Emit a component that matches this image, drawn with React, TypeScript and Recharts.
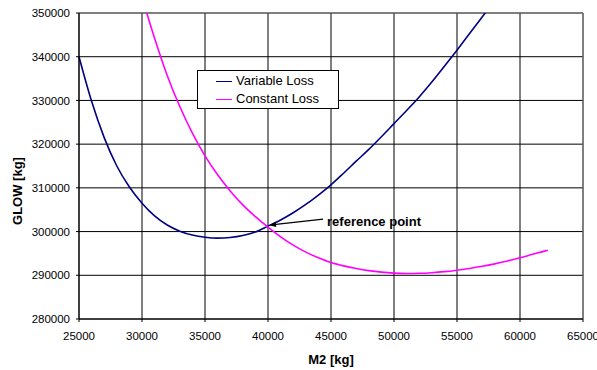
import {
  LineChart,
  Line,
  XAxis,
  YAxis,
  CartesianGrid,
  Legend,
  ReferenceLine
} from 'recharts'

// values
const m2Variable = [
  25000, 26000, 27000, 28000, 29000, 30000, 31000, 32000, 33000, 34000,
  35000, 36000, 37000, 38000, 39000, 40000, 41000, 42000, 43000, 44000,
  45000, 46000, 47000, 48000, 49000, 50000, 51000, 52000, 53000, 54000,
  55000, 56000, 57000, 58000
]
const glowVariable = [
  340000, 329800, 321500, 315000, 310200, 306500, 303600, 301500, 300100, 299200,
  298700, 298500, 298650, 299100, 299900, 301250, 302650, 304300, 306200, 308350,
  310700, 313350, 316100, 318800, 321700, 324700, 327700, 330800, 334200, 337800,
  341500, 345300, 349100, 353000
]

const m2Constant = [
  30000, 31000, 32000, 33000, 34000, 35000, 36000, 37000, 38000, 39000,
  40000, 41000, 42000, 43000, 44000, 45000, 46000, 47000, 48000, 49000,
  50000, 51000, 52000, 53000, 54000, 55000, 56000, 57000, 58000, 59000,
  60000, 61000, 62000, 62200
]
const glowConstant = [
  353700, 344200, 335700, 328600, 322500, 317300, 313000, 309300, 306100, 303400,
  301000, 298800, 296900, 295300, 294000, 292900, 292150, 291550, 291070, 290720,
  290500, 290410, 290450, 290590, 290830, 291170, 291570, 292050, 292610, 293250,
  293990, 294790, 295580, 295750
]

const seriesNames = ['Variable Loss', 'Constant Loss']
const seriesColors = ['#000080', '#FF00FF']

const xTicks = [25000, 30000, 35000, 40000, 45000, 50000, 55000, 60000, 65000]
const yTicks = [280000, 290000, 300000, 310000, 320000, 330000, 340000, 350000]

// annotation arrow: from label to the reference point
const arrowFrom = { x: 44370, y: 302840 }
const referencePoint = { x: 40080, y: 301460 }

const variableData = m2Variable.map((x, i) => ({ x, y: glowVariable[i] }))
const constantData = m2Constant.map((x, i) => ({ x, y: glowConstant[i] }))

const font = "'Liberation Sans', Arial, Helvetica, sans-serif"

function ArrowShape(props: any) {
  const { x1, y1, x2, y2 } = props
  const a = Math.atan2(y2 - y1, x2 - x1)
  const len = 7
  const w = 2.6
  const bx = x2 - len * Math.cos(a)
  const by = y2 - len * Math.sin(a)
  const pts = `${x2},${y2} ${bx + w * Math.sin(a)},${by - w * Math.cos(a)} ${bx - w * Math.sin(a)},${by + w * Math.cos(a)}`
  return (
    <g>
      <line x1={x1} y1={y1} x2={bx} y2={by} stroke="#000" strokeWidth={1.4} />
      <polygon points={pts} fill="#000" />
      <text
        x={x1 + 4}
        y={y1 + 7}
        fontFamily={font}
        fontSize={13}
        fontWeight="bold"
        fill="#000"
      >
        reference point
      </text>
    </g>
  )
}

function XTitle(props: any) {
  const { viewBox } = props
  return (
    <text
      x={viewBox.x + viewBox.width / 2}
      y={viewBox.y + 45}
      textAnchor="middle"
      fontFamily={font}
      fontSize={13}
      fontWeight="bold"
      fill="#000"
    >
      M2 [kg]
    </text>
  )
}

function YTitle(props: any) {
  const { viewBox } = props
  const cx = viewBox.x + 22
  const cy = viewBox.y + viewBox.height / 2 + 25
  return (
    <text
      x={cx}
      y={cy}
      transform={`rotate(-90 ${cx} ${cy})`}
      textAnchor="middle"
      fontFamily={font}
      fontSize={13}
      fontWeight="bold"
      fill="#000"
    >
      GLOW [kg]
    </text>
  )
}

function LegendBox() {
  return (
    <div
      style={{
        width: 142,
        height: 39,
        boxSizing: 'border-box',
        border: '1px solid #000',
        background: '#fff',
        paddingTop: 1,
        fontFamily: font,
        fontSize: 13,
        color: '#000'
      }}
    >
      {seriesNames.map((name, i) => (
        <div
          key={name}
          style={{ height: 18, display: 'flex', alignItems: 'center' }}
        >
          <span
            style={{
              display: 'inline-block',
              marginLeft: 18,
              width: 16,
              height: 0,
              borderTop: `1.5px solid ${seriesColors[i]}`
            }}
          />
          <span style={{ marginLeft: 4, lineHeight: '18px' }}>{name}</span>
        </div>
      ))}
    </div>
  )
}

export default function App() {
  const tickStyle = { fontSize: 11.5, fill: '#000', fontFamily: font }

  return (
    <div
      style={{
        position: 'absolute',
        left: 0,
        top: 0,
        width: 597,
        height: 370,
        background: '#fff'
      }}
    >
      <LineChart
        width={597}
        height={370}
        margin={{ top: 13, right: 14, left: 0, bottom: 0 }}
      >
        <CartesianGrid stroke="#000" strokeWidth={1} />

        <XAxis
          type="number"
          dataKey="x"
          domain={[25000, 65000]}
          ticks={xTicks}
          interval={0}
          height={51}
          tick={tickStyle}
          tickSize={3}
          tickMargin={10}
          axisLine={{ stroke: '#000' }}
          tickLine={{ stroke: '#000' }}
          label={<XTitle />}
        />

        <YAxis
          type="number"
          dataKey="y"
          domain={[280000, 350000]}
          ticks={yTicks}
          interval={0}
          allowDataOverflow
          width={79}
          tick={tickStyle}
          tickSize={3}
          tickMargin={6}
          axisLine={{ stroke: '#000' }}
          tickLine={{ stroke: '#000' }}
          label={<YTitle />}
        />

        <ReferenceLine y={350000} stroke="#808080" />
        <ReferenceLine x={65000} stroke="#808080" />

        <Line
          data={variableData}
          dataKey="y"
          name={seriesNames[0]}
          type="monotone"
          stroke={seriesColors[0]}
          strokeWidth={1.6}
          dot={false}
          activeDot={false}
          isAnimationActive={false}
        />

        <Line
          data={constantData}
          dataKey="y"
          name={seriesNames[1]}
          type="monotone"
          stroke={seriesColors[1]}
          strokeWidth={1.6}
          dot={false}
          activeDot={false}
          isAnimationActive={false}
        />

        <ReferenceLine
          segment={[arrowFrom, referencePoint]}
          shape={ArrowShape}
        />

        <Legend
          layout="horizontal"
          verticalAlign="middle"
          align="center"
          content={<LegendBox />}
          wrapperStyle={{ left: 197, top: 70, width: 142, height: 39 }}
        />
      </LineChart>
    </div>
  )
}
